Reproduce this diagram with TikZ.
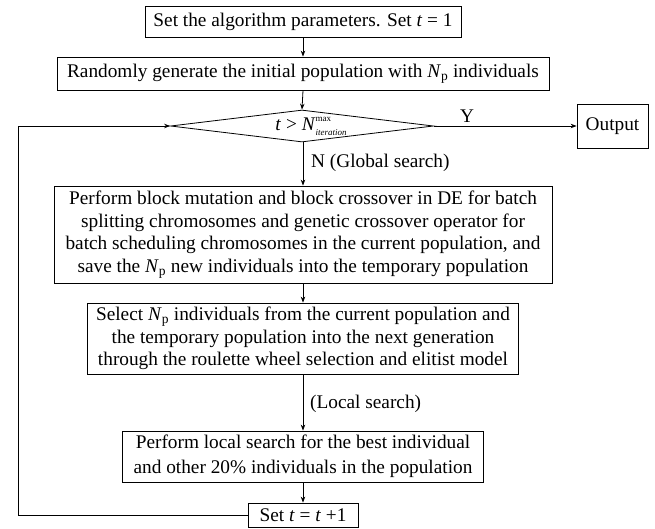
\documentclass[tikz,border=0pt]{standalone}
\usepackage{fontspec}
\setmainfont{Liberation Serif}
\usetikzlibrary{arrows.meta,shapes.geometric}
\begin{document}
\begin{tikzpicture}[x=1pt,y=-1pt,
  box/.style={draw, line width=0.8pt, inner sep=0pt, align=center, font=\fontsize{19.3}{22.6}\selectfont},
  lbl/.style={inner sep=0pt, font=\fontsize{19.3}{22.6}\selectfont},
  arr/.style={-{Stealth[length=6pt,width=4.5pt]}, line width=0.8pt}]
\useasboundingbox (0,0) rectangle (655,528);
\node[box, minimum width=316pt, minimum height=31pt] (b1) at (303,21.5) {Set the algorithm parameters. Set \textit{t} = 1};
\node[box, minimum width=492pt, minimum height=33pt] (b2) at (303,73.5) {Randomly generate the initial population with \textit{N}\textsubscript{p} individuals};
\node[diamond, draw, line width=0.8pt, aspect=8.2, minimum width=263pt, minimum height=32pt, inner sep=0pt] (dia) at (302,126) {};
\node[lbl] (dtext) at (311,126) {\textit{t} > \textit{N}\rlap{\raisebox{9pt}{\fontsize{9}{9}\selectfont max}}\raisebox{-5pt}{\fontsize{9}{9}\selectfont\itshape iteration}};
\node[box, minimum width=71pt, minimum height=44pt] (out) at (612.5,126) {Output};
\node[box, minimum width=498pt, minimum height=97pt] (b3) at (303,234.5) {Perform block mutation and block crossover in DE for batch\\
splitting chromosomes and genetic crossover operator for\\
batch scheduling chromosomes in the current population, and\\
save the \textit{N}\textsubscript{p} new individuals into the temporary population};
\node[box, minimum width=431pt, minimum height=71pt] (b4) at (303,338.5) {Select \textit{N}\textsubscript{p} individuals from the current population and\\
the temporary population into the next generation\\
through the roulette wheel selection and elitist model};
\node[box, minimum width=361pt, minimum height=51pt, font=\fontsize{19.3}{25}\selectfont] (b5) at (303,456.5) {Perform local search for the best individual\\
and other 20\% individuals in the population};
\node[box, minimum width=110pt, minimum height=24pt] (set) at (303,515) {Set \textit{t} = \textit{t} +1};
\node[lbl] (ylab) at (467,116) {Y};
\node[lbl, anchor=west] (nlab) at (311,163) {N (Global search)};
\node[lbl, anchor=west] (llab) at (310,404) {(Local search)};
\coordinate (lp) at (18,126);
\draw[arr] (b1.south) -- (b2.north);
\draw[arr] (b2.south) -- (dia.north);
\draw[arr] (dia.east) -- (out.west);
\draw[arr] (dia.south -| b3.north) -- (b3.north);
\draw[arr] (b3.south) -- (b4.north);
\draw[arr] (b4.south) -- (b5.north);
\draw[arr] (b5.south) -- (set.north);
\draw[arr] (set.west) -| (lp) -- (dia.west);
\end{tikzpicture}
\end{document}
